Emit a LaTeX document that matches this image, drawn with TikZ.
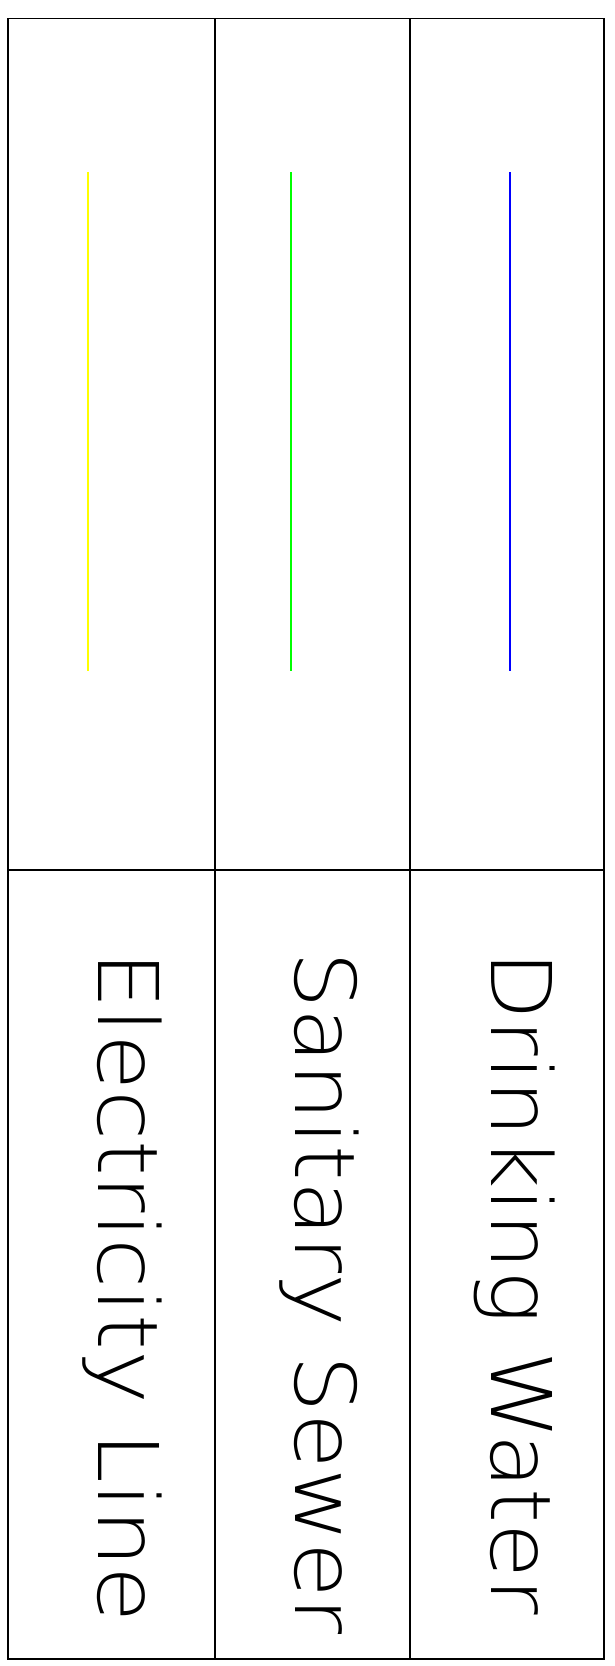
\documentclass[tikz,border=0pt]{standalone}
\usepackage{fontspec}
\usepackage{graphicx}
\newfontfamily\thinf{DejaVuSans-ExtraLight.ttf}
\definecolor{elecyellow}{RGB}{255,255,0}
\definecolor{sewgreen}{RGB}{0,255,0}
\definecolor{watblue}{RGB}{0,0,255}
\tikzset{
  frameline/.style={draw=black,line width=1.4pt},
  utilline/.style={line width=1.1pt},
  legendtext/.style={rotate=-90,anchor=base west,inner sep=0pt,outer sep=0pt,font=\thinf\fontsize{83.7}{90}\selectfont}
}
\begin{document}
\begin{tikzpicture}[x=1pt,y=-1pt]
\useasboundingbox (0,0) rectangle (614,1666);
% frame
\draw[frameline] (8,18.3) rectangle (604,1659);
\draw[frameline] (215,18.3) -- (215,1659);
\draw[frameline] (410,18.3) -- (410,1659);
\draw[frameline] (8,870) -- (604,870);
% utility lines
\coordinate (ytop) at (88,172);
\coordinate (ybot) at (88,671);
\coordinate (gtop) at (291,172);
\coordinate (gbot) at (291,671);
\coordinate (btop) at (510,172);
\coordinate (bbot) at (510,671);
\draw[utilline,elecyellow] (ytop) -- (ybot);
\draw[utilline,sewgreen] (gtop) -- (gbot);
\draw[utilline,watblue] (btop) -- (bbot);
% labels
\node[legendtext] (elec) at (98,951) {\resizebox{672pt}{\height}{Electricity Line}};
\node[legendtext] (sew) at (295,951) {\resizebox{684pt}{\height}{Sanitary Sewer}};
\node[legendtext] (wat) at (491,951) {\resizebox{664pt}{\height}{Drinking Water}};
\end{tikzpicture}
\end{document}
